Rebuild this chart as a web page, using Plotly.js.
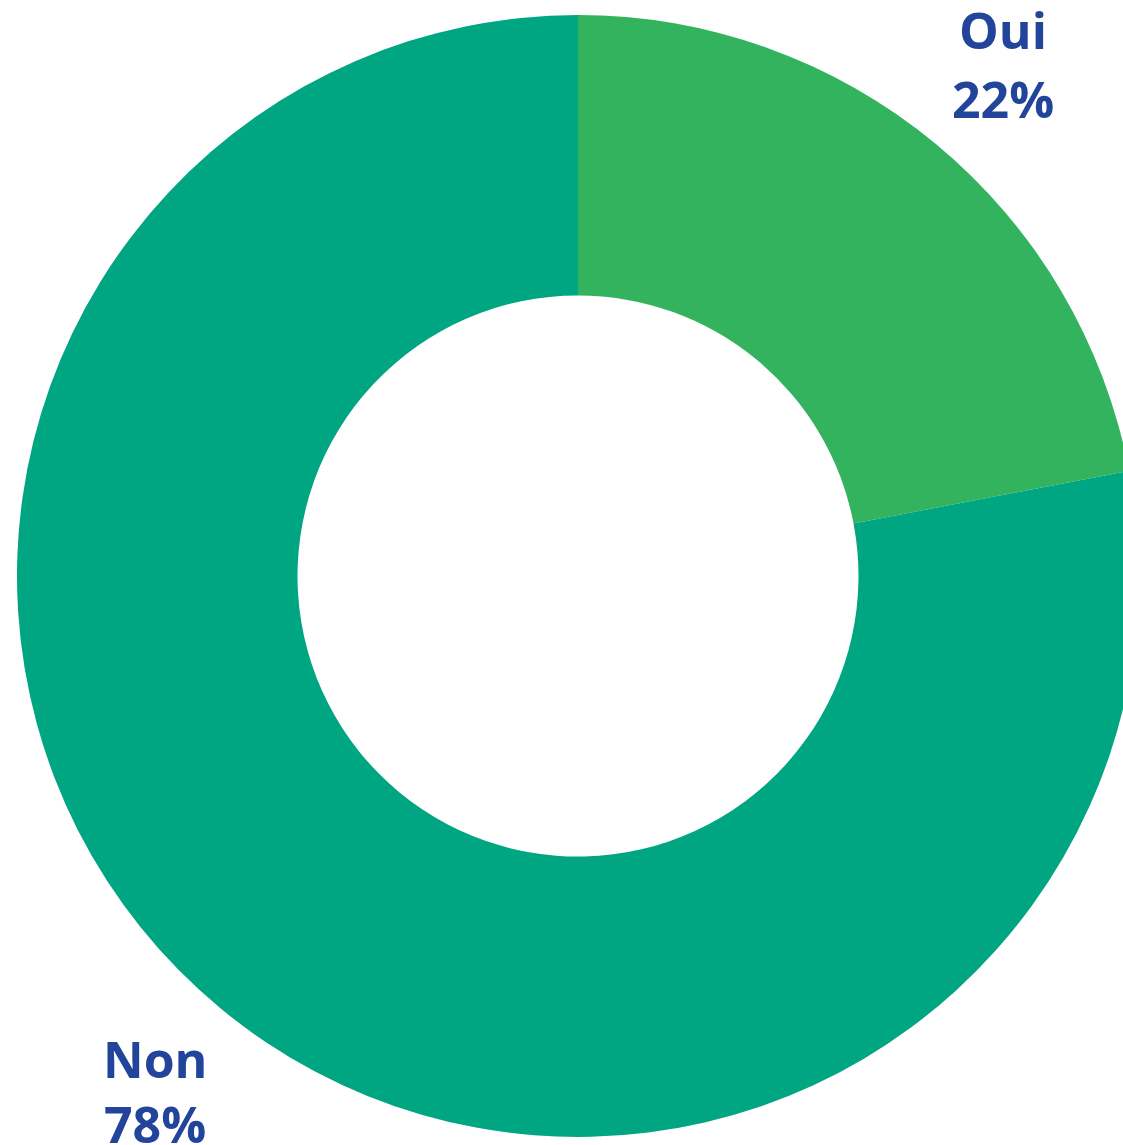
<!DOCTYPE html>
<html>
<head>
<meta charset="utf-8">
<script src="https://cdn.plot.ly/plotly-3.0.1.min.js"></script>
<style>
html, body { margin: 0; padding: 0; overflow: hidden; background: #ffffff; }
#chart { width: 1156px; height: 1145px; }
</style>
</head>
<body>
<div id="chart"></div>
<script>
const categories = ["Oui", "Non"];
const values = [22, 78];
const percentLabels = ["22%", "78%"];
const colors = ["#34B35E", "#00A582"];

const W = 1156, H = 1145;
const M = { l: 17, r: 17, t: 15, b: 8 };
const PW = W - M.l - M.r, PH = H - M.t - M.b;
const px2x = px => (px - M.l) / PW;
const py2y = py => (H - M.b - py) / PH;

const labelPos = {
  "Oui": { x: 1003, yName: 30, yPct: 99 },
  "Non": { x: 155, yName: 1059, yPct: 1124 }
};
const textColor = "#22449A";
const font = { family: "Open Sans, sans-serif", size: 50, color: textColor, weight: 700 };

const annotations = [];
categories.forEach((c, i) => {
  const p = labelPos[c];
  annotations.push({ text: "<b>" + c + "</b>", x: px2x(p.x), y: py2y(p.yName), xref: "paper", yref: "paper",
    xanchor: "center", yanchor: "middle", showarrow: false, font: font });
  annotations.push({ text: "<b>" + percentLabels[i] + "</b>", x: px2x(p.x), y: py2y(p.yPct), xref: "paper", yref: "paper",
    xanchor: "center", yanchor: "middle", showarrow: false, font: font });
});

Plotly.newPlot("chart", [{
  type: "pie",
  labels: categories,
  values: values,
  hole: 0.5,
  sort: false,
  direction: "clockwise",
  rotation: 0,
  textinfo: "none",
  marker: { colors: colors, line: { width: 0 } },
  domain: { x: [0, 1], y: [0, 1] },
  showlegend: false
}], {
  width: W, height: H,
  margin: M,
  paper_bgcolor: "#ffffff",
  showlegend: false,
  annotations: annotations
}, { staticPlot: true, displayModeBar: false });
</script>
</body>
</html>
